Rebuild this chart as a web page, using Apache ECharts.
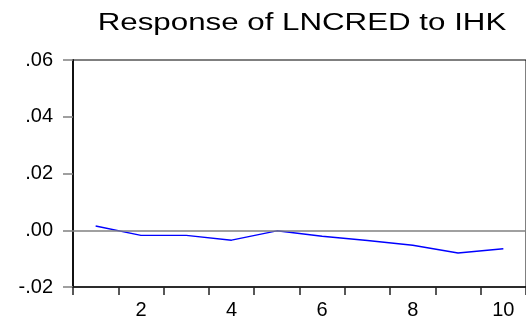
<!DOCTYPE html>
<html>
<head>
<meta charset="utf-8">
<script src="https://cdn.jsdelivr.net/npm/echarts@6/dist/echarts.min.js"></script>
<style>
html,body{margin:0;padding:0;background:#fff;}
#chart{width:526px;height:320px;}
</style>
</head>
<body>
<div id="chart"></div>
<script>
const titleText = 'Response of LNCRED to IHK';
const periods = ['1','2','3','4','5','6','7','8','9','10'];
const response = [0.0015, -0.0018, -0.0018, -0.0035, -0.0002, -0.0021, -0.0036, -0.0053, -0.0080, -0.0065];
const yTickLabels = {'-0.02':'-.02','0':'.00','0.02':'.02','0.04':'.04','0.06':'.06'};

const chart = echarts.init(document.getElementById('chart'), null, {renderer:'canvas'});
const font = 'Liberation Sans, Arial, sans-serif';
chart.setOption({
  animation: false,
  backgroundColor: '#ffffff',
  graphic: [{
    type: 'text',
    x: 302, y: 24,
    scaleX: 1.36,
    style: {
      text: titleText,
      fontFamily: font,
      fontSize: 23,
      fill: '#000',
      textAlign: 'center',
      textVerticalAlign: 'middle'
    }
  }],
  grid: {
    left: 73, top: 60, width: 458, height: 227,
    show: true, borderColor: '#000', borderWidth: 1, backgroundColor: 'transparent'
  },
  xAxis: {
    type: 'category',
    data: periods,
    boundaryGap: true,
    axisLine: {onZero: false, lineStyle: {color: '#111', width: 1.5}},
    axisTick: {show: true, interval: 0, length: 8, lineStyle: {color: '#222', width: 1.5}},
    axisLabel: {
      interval: function (i) { return i % 2 === 1; },
      color: '#000', fontFamily: font, fontSize: 20, margin: 13
    },
    splitLine: {show: false}
  },
  yAxis: {
    type: 'value',
    min: -0.02, max: 0.06, interval: 0.02,
    axisLine: {show: true, lineStyle: {color: '#111', width: 2}},
    axisTick: {show: true, length: 10, lineStyle: {color: '#808080', width: 1.5}},
    axisLabel: {
      color: '#000', fontFamily: font, fontSize: 20, margin: 20,
      formatter: function (v) {
        const k = String(Math.round(v * 100) / 100);
        return yTickLabels[k] !== undefined ? yTickLabels[k] : k;
      }
    },
    splitLine: {show: false}
  },
  series: [{
    type: 'line',
    data: response,
    symbol: 'none',
    lineStyle: {color: '#0000ff', width: 1.4},
    markLine: {
      silent: true,
      symbol: 'none',
      label: {show: false},
      lineStyle: {color: '#808080', width: 1.5, type: 'solid'},
      data: [{yAxis: 0}]
    },
    z: 3
  }]
});
</script>
</body>
</html>
